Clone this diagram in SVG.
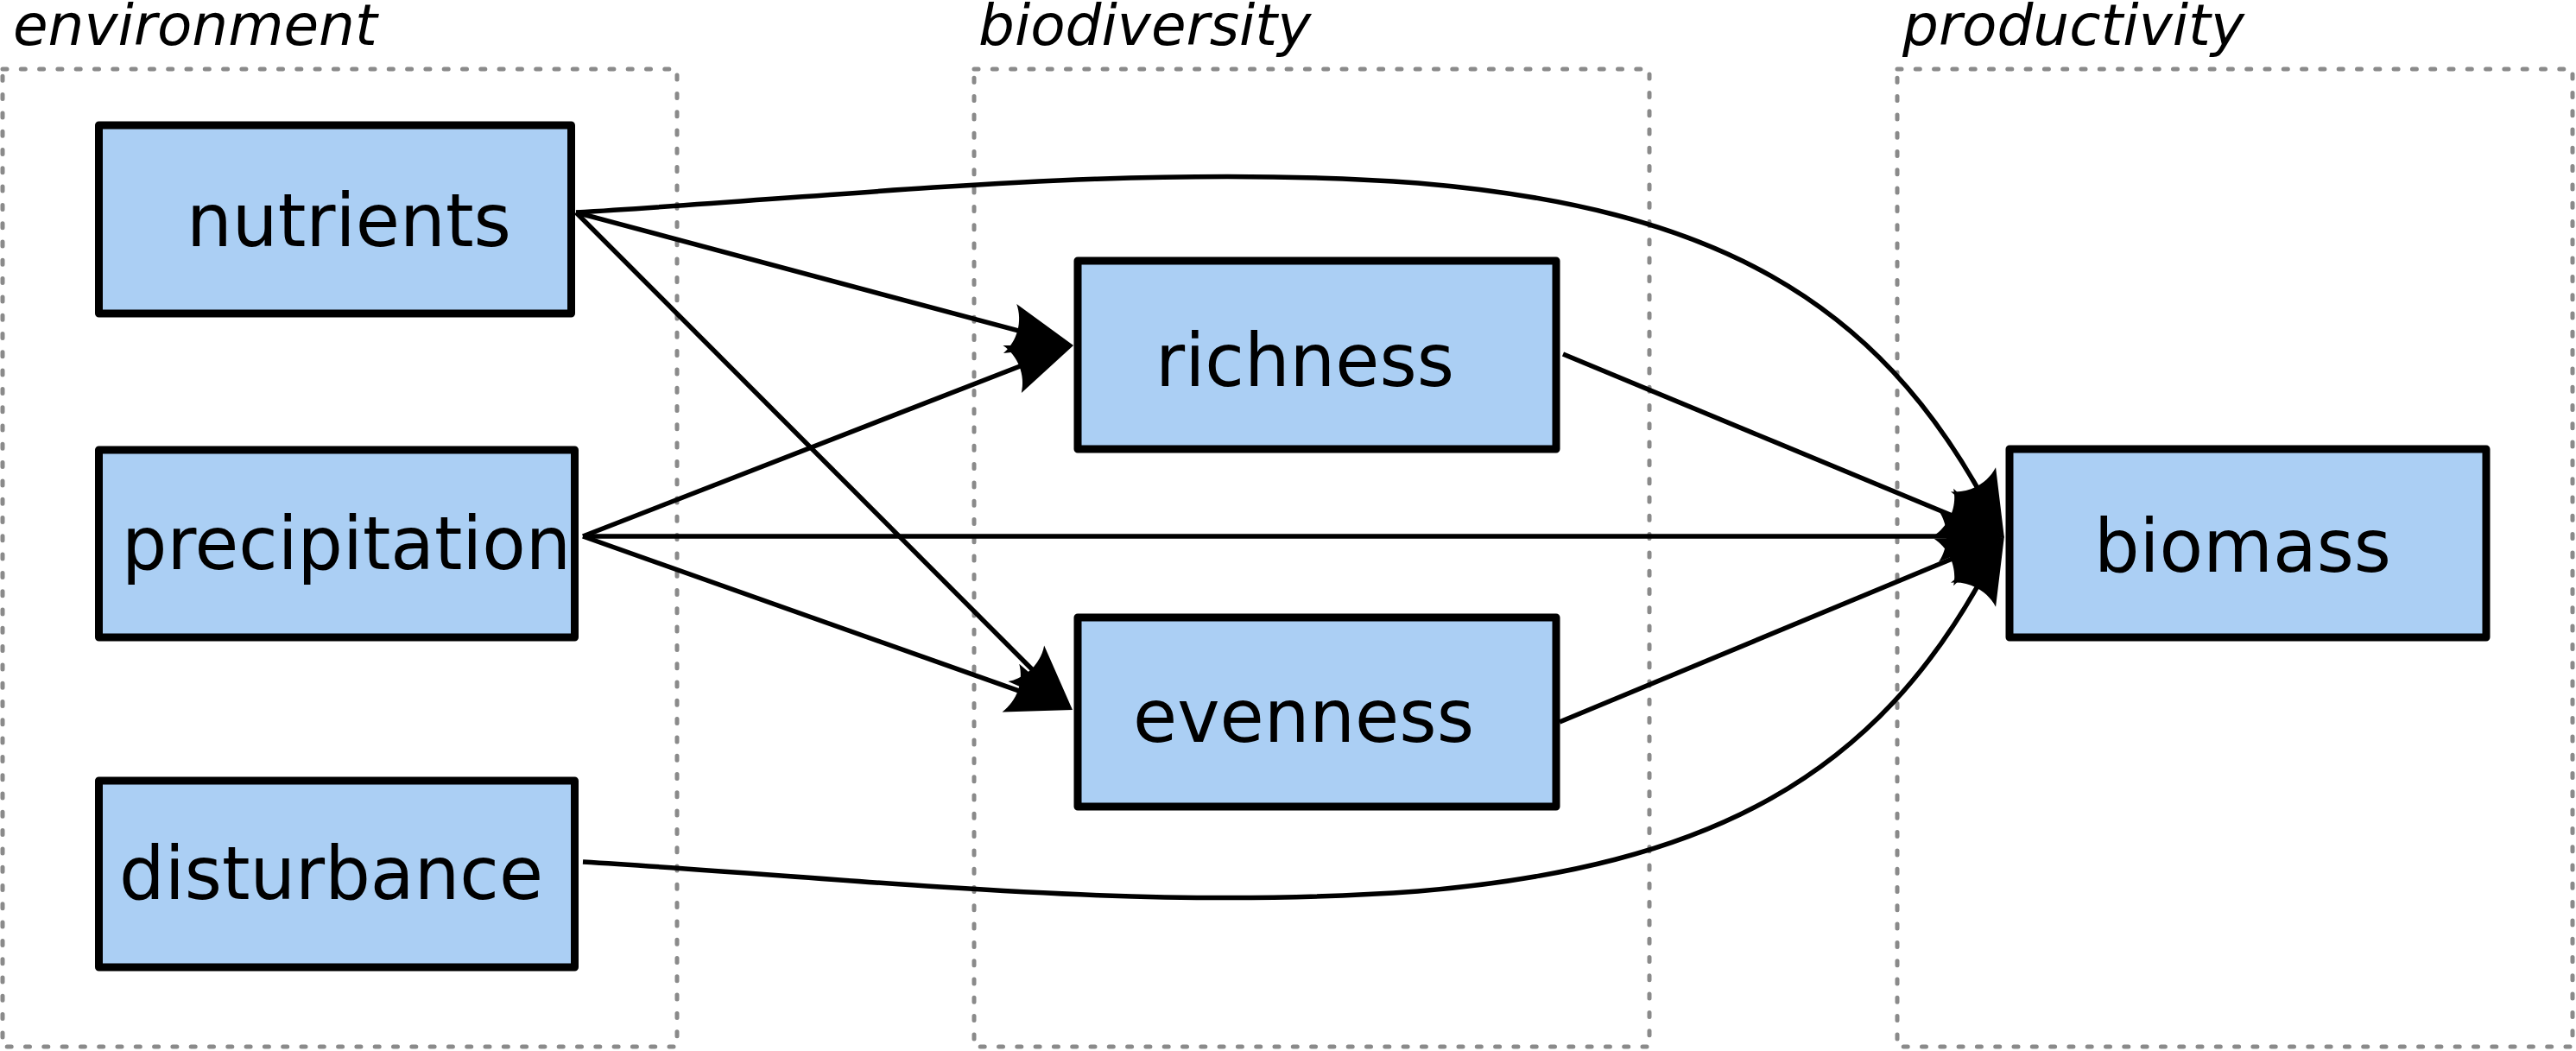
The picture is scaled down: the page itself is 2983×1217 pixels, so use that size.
<svg xmlns="http://www.w3.org/2000/svg" width="2983" height="1217" viewBox="0 0 2983 1217">
<style>
.grp{fill:none;stroke:#8a8a8a;stroke-width:5;stroke-dasharray:5 16.3;stroke-linecap:round}
.glabel{font-family:"DejaVu Sans","Liberation Sans",sans-serif;font-style:italic;font-size:66px;fill:#000}
.box{fill:#abcff4;stroke:#000;stroke-width:9;stroke-linejoin:round}
.label{font-family:"DejaVu Sans","Liberation Sans",sans-serif;font-size:86px;fill:#000;text-anchor:middle}
.edge{fill:none;stroke:#000;stroke-width:5.5;marker-end:url(#arrow)}
</style>
<defs>
<marker id="arrow" markerUnits="userSpaceOnUse" orient="auto" refX="0" refY="0" markerWidth="1" markerHeight="1" style="overflow:visible">
<path d="M40,0 L-36,-29.5 C-24,-12 -24,12 -36,29.5 Z" fill="#000"/>
</marker>
</defs>
<rect width="2983" height="1217" fill="#fff"/>
<g id="group-environment">
<rect class="grp" x="3" y="80" width="781" height="1132"/>
<text class="glabel" x="15" y="52">environment</text>
</g>
<g id="group-biodiversity">
<rect class="grp" x="1128" y="80" width="782" height="1132"/>
<text class="glabel" x="1133" y="52">biodiversity</text>
</g>
<g id="group-productivity">
<rect class="grp" x="2197" y="80" width="782" height="1132"/>
<text class="glabel" x="2203" y="52">productivity</text>
</g>
<g id="connectors">
<path class="edge" d="M667,246 L1204.4,389.7"/>
<path class="edge" d="M675,621 L1205.7,414.5"/>
<path class="edge" d="M667,246 L1213.7,793.7"/>
<path class="edge" d="M675,621 L1204.3,808.6"/>
<path class="edge" d="M675,621 L2281,621"/>
<path class="edge" d="M1810,410 L2284.1,606.7"/>
<path class="edge" d="M1806,836 L2284.1,637.3"/>
<path class="edge" d="M667,246 C992,226.5 1317,188 1642,212 C1982,240.9 2172.75,345 2302,587"/>
<path class="edge" d="M675,998 C1000,1017.5 1317,1056 1642,1032 C1982,1003.1 2172.75,899 2302,657"/>
</g>
<g id="node-nutrients">
<rect class="box" x="114.5" y="145" width="547" height="218"/>
<text class="label" x="404" y="285" textLength="376" lengthAdjust="spacingAndGlyphs">nutrients</text>
</g>
<g id="node-precipitation">
<rect class="box" x="114.5" y="521" width="551" height="217"/>
<text class="label" x="401" y="659" textLength="520" lengthAdjust="spacingAndGlyphs">precipitation</text>
</g>
<g id="node-disturbance">
<rect class="box" x="114.5" y="904" width="551" height="216"/>
<text class="label" x="383.5" y="1041" textLength="491" lengthAdjust="spacingAndGlyphs">disturbance</text>
</g>
<g id="node-richness">
<rect class="box" x="1248" y="302" width="554" height="218"/>
<text class="label" x="1511" y="447" textLength="346" lengthAdjust="spacingAndGlyphs">richness</text>
</g>
<g id="node-evenness">
<rect class="box" x="1248" y="715" width="554" height="219"/>
<text class="label" x="1509.5" y="859" textLength="395" lengthAdjust="spacingAndGlyphs">evenness</text>
</g>
<g id="node-biomass">
<rect class="box" x="2327" y="520" width="552" height="218"/>
<text class="label" x="2597" y="662" textLength="344" lengthAdjust="spacingAndGlyphs">biomass</text>
</g>
</svg>
